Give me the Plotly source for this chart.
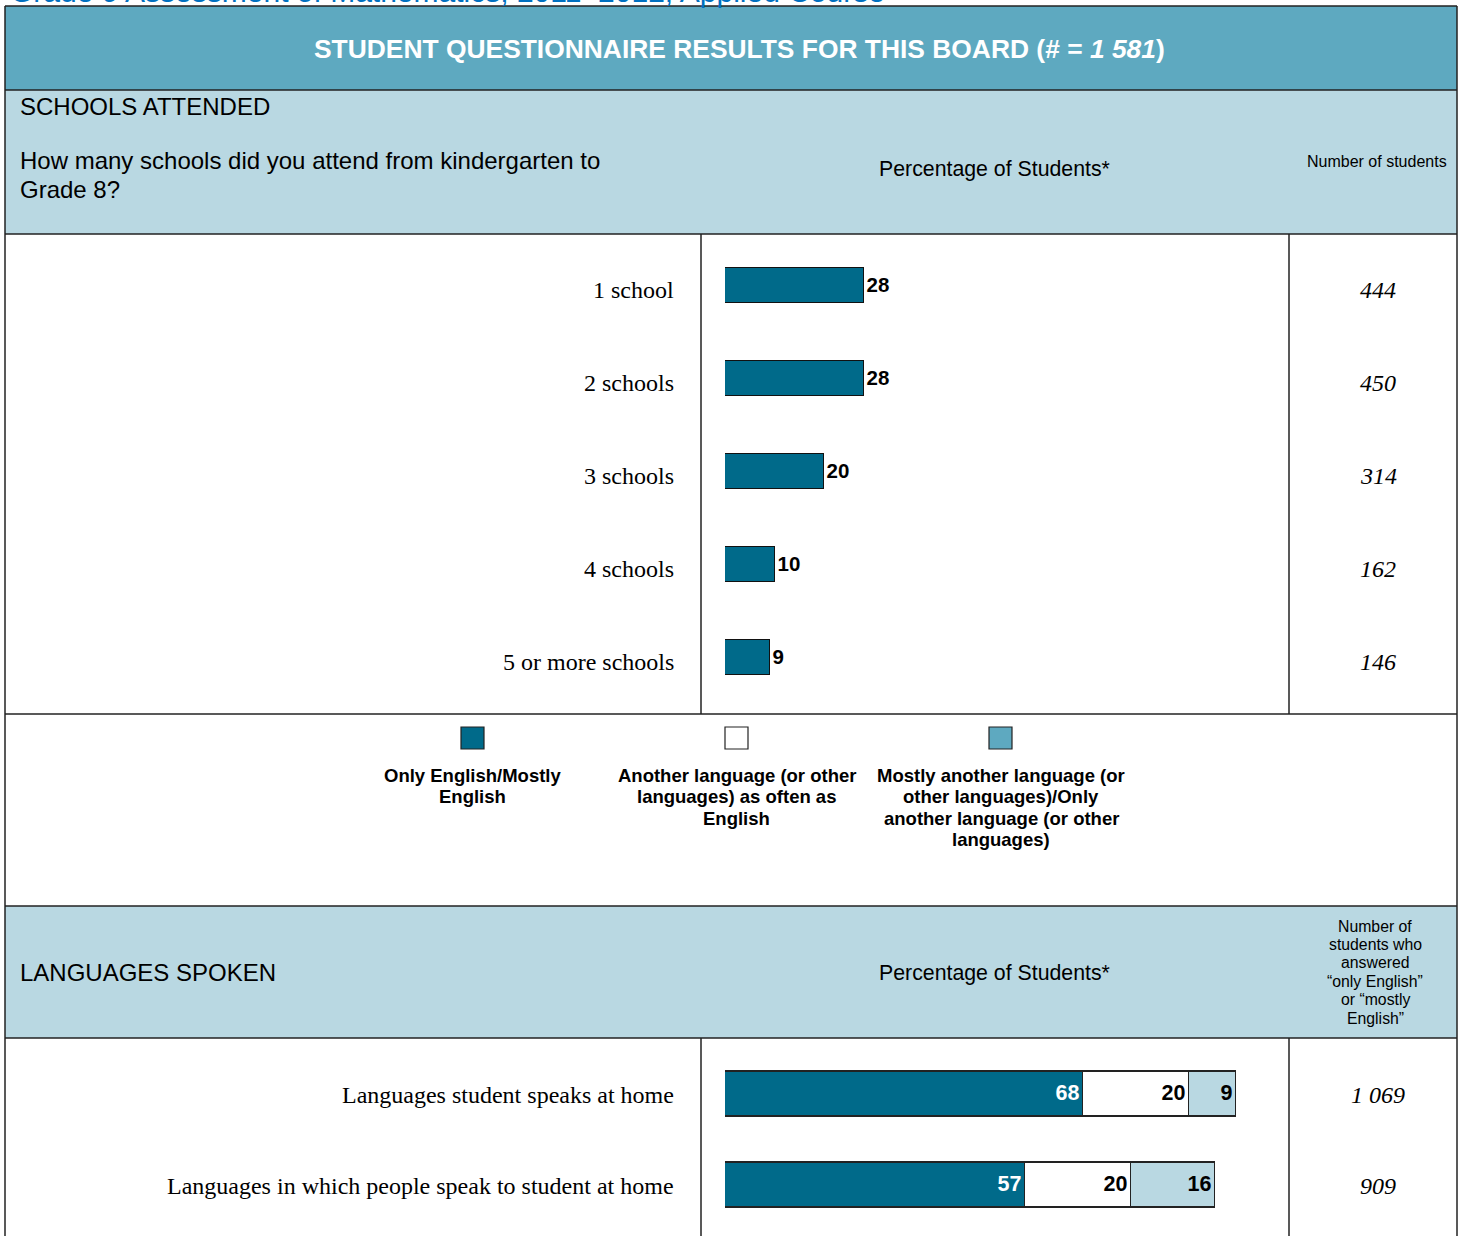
import plotly.graph_objects as go

W, H = 1460, 1236

# ---------------- data ----------------
school_cats = ["1 school", "2 schools", "3 schools", "4 schools", "5 or more schools"]
school_pct = [28, 28, 20, 10, 9]
school_n = ["444", "450", "314", "162", "146"]

lang_cats = ["Languages student speaks at home",
             "Languages in which people speak to student at home"]
only_english = [68, 57]
as_often = [20, 20]
mostly_other = [9, 16]
lang_n = ["1 069", "909"]

legend_labels = [["Only English/Mostly", "English"],
                 ["Another language (or other", "languages) as often as", "English"],
                 ["Mostly another language (or", "other languages)/Only",
                  "another language (or other", "languages)"]]

DARK = "#006A8A"
MID = "#5EA9C0"
LIGHT = "#B9D8E2"
SANS = "Liberation Sans, Arial, sans-serif"
SERIF = "Liberation Serif, Times New Roman, serif"


def X(px):
    return px / W


def Y(py):
    return 1 - py / H


fig = go.Figure()

# schools attended bars
fig.add_trace(go.Bar(
    y=school_cats, x=school_pct, orientation="h", xaxis="x", yaxis="y",
    marker=dict(color=DARK, line=dict(color="#111111", width=1)),
    width=0.38, text=school_pct, textposition="outside",
    textfont=dict(family=SANS, size=20.5, color="black", weight="bold"),
    cliponaxis=False, showlegend=False, hoverinfo="skip"))

# languages stacked bars
for vals, col, tcol in [(only_english, DARK, "white"),
                        (as_often, "white", "black"),
                        (mostly_other, LIGHT, "black")]:
    fig.add_trace(go.Bar(
        y=lang_cats, x=vals, orientation="h", xaxis="x2", yaxis="y2",
        marker=dict(color=col, line=dict(color="#222222", width=1.2)),
        width=0.5, text=vals, textposition="inside", insidetextanchor="end",
        textfont=dict(family=SANS, size=21.5, color=tcol, weight="bold"),
        constraintext="none", cliponaxis=False, showlegend=False, hoverinfo="skip"))

fig.update_layout(
    width=W, height=H, margin=dict(l=0, r=0, t=0, b=0),
    paper_bgcolor="white", plot_bgcolor="rgba(0,0,0,0)",
    barmode="stack", bargap=0,
    xaxis=dict(domain=[X(725), X(1221)], range=[0, 100], visible=False, anchor="y"),
    yaxis=dict(domain=[Y(703.5), Y(238.5)], range=[4.5, -0.5], visible=False,
               type="category", anchor="x"),
    xaxis2=dict(domain=[X(725), X(1252)], range=[0, 100], visible=False, anchor="y2"),
    yaxis2=dict(domain=[Y(1230.5), Y(1048.5)], range=[1.5, -0.5], visible=False,
                type="category", anchor="x2"),
)

shapes = []


def rect(x0, y0, x1, y1, fill, lw=0, lc="black"):
    shapes.append(dict(type="rect", xref="paper", yref="paper",
                       x0=X(x0), x1=X(x1), y0=Y(y1), y1=Y(y0),
                       fillcolor=fill, line=dict(width=lw, color=lc), layer="below"))


def line(x0, y0, x1, y1, lw=1.5, lc="#222222"):
    shapes.append(dict(type="line", xref="paper", yref="paper",
                       x0=X(x0), x1=X(x1), y0=Y(y0), y1=Y(y1),
                       line=dict(width=lw, color=lc), layer="above"))


# bands
rect(5, 6, 1457, 90, MID)
rect(5, 90, 1457, 234, LIGHT)
rect(5, 906, 1457, 1038, LIGHT)
# horizontal lines
for yy in [6, 90, 234, 714, 906, 1038]:
    line(5, yy, 1457, yy)
# outer verticals
line(5, 6, 5, 1236)
line(1457, 6, 1457, 1236)
# column separators
line(701, 234, 701, 714)
line(1289, 234, 1289, 714)
line(701, 1038, 701, 1236)
line(1289, 1038, 1289, 1236)

# legend swatches
sw = [(461, DARK), (725, "white"), (989, MID)]
for x0, c in sw:
    shapes.append(dict(type="rect", xref="paper", yref="paper",
                       x0=X(x0), x1=X(x0 + 23), y0=Y(749), y1=Y(727),
                       fillcolor=c, line=dict(width=1.2, color="#222222")))

fig.update_layout(shapes=shapes)

ann = []


def txt(x, y, s, size, xanchor="left", yanchor="middle", family=SANS, color="black", align="left", **kw):
    ann.append(dict(x=X(x), y=Y(y), xref="paper", yref="paper", text=s, showarrow=False,
                    xanchor=xanchor, yanchor=yanchor, align=align,
                    font=dict(family=family, size=size, color=color), **kw))


# clipped page title above the table
txt(8, 10, "Grade 9 Assessment of Mathematics, 2011–2012, Applied Course", 30,
    yanchor="bottom", color="#0070C0")

txt(739, 49, "<b>STUDENT QUESTIONNAIRE RESULTS FOR THIS BOARD (# = <i>1 581</i>)</b>", 26.4,
    xanchor="center", color="white")
txt(18, 106, "SCHOOLS ATTENDED", 24)
txt(18, 161, "How many schools did you attend from kindergarten to", 24)
txt(18, 189, "Grade 8?", 24)
txt(995, 169, "Percentage of Students*", 21.3, xanchor="center")
txt(1377, 162, "Number of students", 16, xanchor="center")

txt(18, 972, "LANGUAGES SPOKEN", 24)
txt(995, 973, "Percentage of Students*", 21.3, xanchor="center")
for i, s in enumerate(["Number of", "students who", "answered", "“only English”",
                       "or “mostly", "English”"]):
    txt(1375, 926 + 18.4 * i, s, 15.8, xanchor="center")

for (x0, _), lines in zip(sw, legend_labels):
    for i, s in enumerate(lines):
        txt(x0 + 12, 775 + 21.6 * i, "<b>" + s + "</b>", 18.5, xanchor="center")

# row labels and counts (schools)
for cat, n in zip(school_cats, school_n):
    ann.append(dict(x=X(676), y=cat, xref="paper", yref="y", text=cat, showarrow=False,
                    xanchor="right", yanchor="middle", yshift=-5,
                    font=dict(family=SERIF, size=24, color="black")))
    ann.append(dict(x=X(1378), y=cat, xref="paper", yref="y", text="<i>" + n + "</i>",
                    showarrow=False, xanchor="center", yanchor="middle", yshift=-5,
                    font=dict(family=SERIF, size=24, color="black")))

for cat, n in zip(lang_cats, lang_n):
    ann.append(dict(x=X(676), y=cat, xref="paper", yref="y2", text=cat, showarrow=False,
                    xanchor="right", yanchor="middle", yshift=-1,
                    font=dict(family=SERIF, size=24, color="black")))
    ann.append(dict(x=X(1378), y=cat, xref="paper", yref="y2", text="<i>" + n + "</i>",
                    showarrow=False, xanchor="center", yanchor="middle", yshift=-1,
                    font=dict(family=SERIF, size=24, color="black")))

fig.update_layout(annotations=ann)

fig.write_html("out.html", config={"displayModeBar": False},
               post_script="document.body.style.margin='0';")
